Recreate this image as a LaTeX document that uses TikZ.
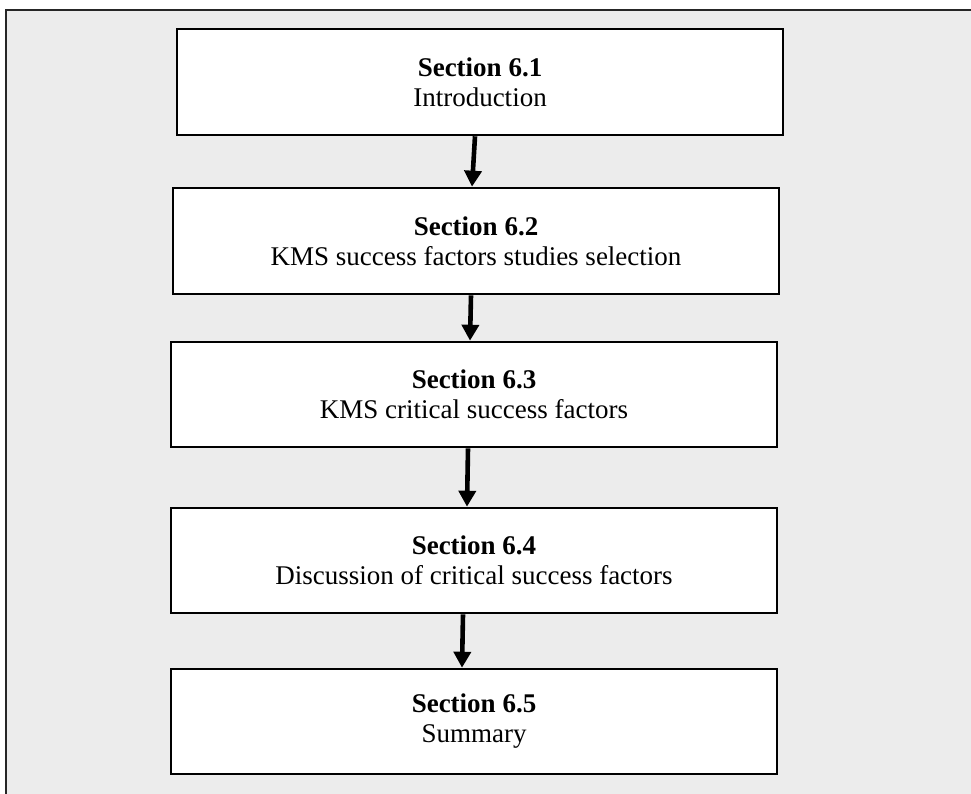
\documentclass[tikz,border=0pt]{standalone}
\usepackage{fontspec}
\setmainfont{Liberation Serif}
\usetikzlibrary{arrows.meta}
\definecolor{panel}{HTML}{ECECEC}
\tikzset{
  secbox/.style={draw=black, fill=white, line width=2.6pt, align=center,
    minimum width=606pt, minimum height=105pt, inner sep=0pt,
    font=\fontsize{27}{30}\selectfont},
  flow/.style={line width=4.6pt, -{Triangle[width=17pt,length=16pt]}}
}
\begin{document}
\begin{tikzpicture}[x=1pt,y=-1pt]
\useasboundingbox (0,0) rectangle (971,793);
\fill[white] (0,0) rectangle (971,793);
% grey panel, framed on the left and top
\fill[panel] (6,10) rectangle (975,800);
\draw[line width=2.4pt, black!85] (6,800) -- (6,10) -- (975,10);

\node[secbox, minimum height=106pt] (s1) at (480,82) {\textbf{Section 6.1}\\Introduction};
\node[secbox, minimum height=106pt] (s2) at (476,241) {\textbf{Section 6.2}\\KMS success factors studies selection};
\node[secbox] (s3) at (474,394.5) {\textbf{Section 6.3}\\KMS critical success factors};
\node[secbox] (s4) at (474,560.5) {\textbf{Section 6.4}\\Discussion of critical success factors};
\node[secbox] (s5) at (474,721.5) {\textbf{Section 6.5}\\Summary};

\draw[flow] (s1.south -| 475,0) -- (s2.north -| 472,0);
\draw[flow] (s2.south -| 471,0) -- (s3.north -| 470,0);
\draw[flow] (s3.south -| 468,0) -- (s4.north -| 467,0);
\draw[flow] (s4.south -| 463,0) -- (s5.north -| 462,0);
\end{tikzpicture}
\end{document}
